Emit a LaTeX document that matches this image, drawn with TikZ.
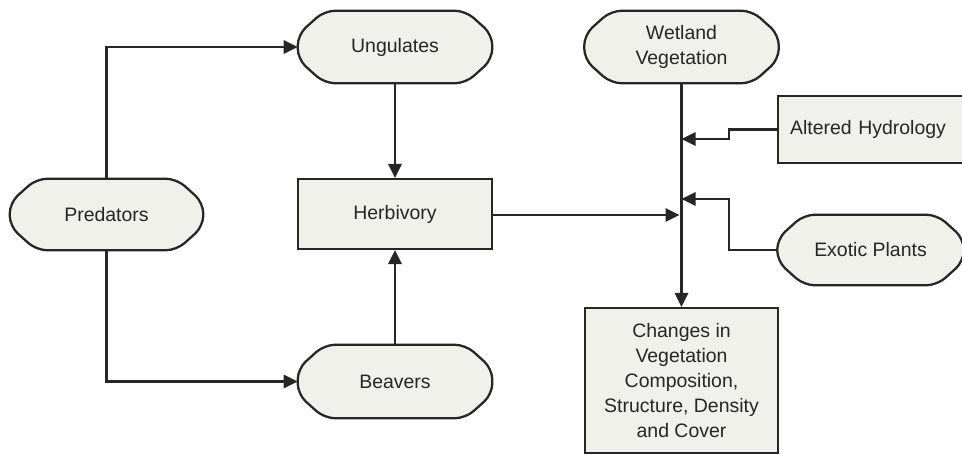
\documentclass[tikz,border=0pt]{standalone}
\usepackage{fontspec}
\setmainfont{Liberation Sans}
\usetikzlibrary{arrows.meta,backgrounds}
\definecolor{boxfill}{RGB}{239,241,234}
\definecolor{ink}{RGB}{38,38,38}
\begin{document}
\begin{tikzpicture}[x=0.75pt,y=-0.75pt,
  every node/.style={font=\fontsize{14.6pt}{18.75pt}\selectfont, text=ink, align=center, inner sep=0pt},
  pill/.style={rectangle, minimum width=145.5pt, minimum height=54pt},
  pillline/.style={draw=ink, fill=boxfill, line width=1.7pt, rounded corners=8pt},
  sqbox/.style={rectangle, draw=ink, fill=boxfill, line width=1.7pt},
  arr/.style={draw=ink, line width=1.6pt, -{Triangle[length=10.5pt,width=10pt]}},
  ln/.style={draw=ink, line width=1.6pt}
]
\useasboundingbox (0,0) rectangle (962,454);
\clip (0,0) rectangle (962,454);

% nodes
\node[pill] (ung) at (395,47) {Ungulates};
\node[pill, minimum width=144.75pt, minimum height=53.25pt] (pred) at (106.5,214.5) {Predators};
\node[sqbox, minimum width=145.5pt, minimum height=52.5pt] (herb) at (395,214) {Herbivory};
\node[pill, minimum height=54.75pt] (beav) at (395,381.5) {Beavers};
\node[pill] (wet) at (681.5,47) {Wetland\\Vegetation};
\node[sqbox, anchor=west, minimum height=50.25pt, text width=220pt, inner xsep=9pt, align=left] (alt) at (777,129.5) {Altered Hydrology};
\node[pill, minimum width=139.5pt, minimum height=52.5pt] (exo) at (870.5,250) {Exotic Plants};
\node[sqbox, minimum width=144.75pt, minimum height=108.75pt] (chg) at (681.5,380.5) {Changes in\\Vegetation\\Composition,\\Structure, Density\\and Cover};

% rounded-octagon outlines behind the text
\begin{pgfonlayer}{background}
\foreach \n in {ung,pred,beav,wet,exo}{
  \draw[pillline]
    ([xshift=20pt]\n.north west) -- ([xshift=-20pt]\n.north east)
    -- ([yshift=-18pt]\n.north east) -- ([yshift=18pt]\n.south east)
    -- ([xshift=-20pt]\n.south east) -- ([xshift=20pt]\n.south west)
    -- ([yshift=18pt]\n.south west) -- ([yshift=-18pt]\n.north west) -- cycle;
}
\end{pgfonlayer}

% junction points on the vertical trunk
\coordinate (jh) at (680.5,139);
\coordinate (je) at (680.5,199);
\coordinate (jb) at (680.5,215);

% connectors
\draw[arr] (pred.north) |- (ung.west);
\draw[arr] (pred.south) |- (beav.west);
\draw[arr] (ung.south) -- (herb.north);
\draw[arr] (beav.north) -- (herb.south);
\draw[arr] (wet.south) -- (chg.north);
\draw[arr] (herb.east |- jb) -- ([xshift=-0.75pt]jb);
\draw[arr] (alt.west) -- ++(-48,0) |- ([xshift=0.75pt]jh);
\draw[arr] (exo.west) -- ++(-48,0) |- ([xshift=0.75pt]je);
\end{tikzpicture}
\end{document}
